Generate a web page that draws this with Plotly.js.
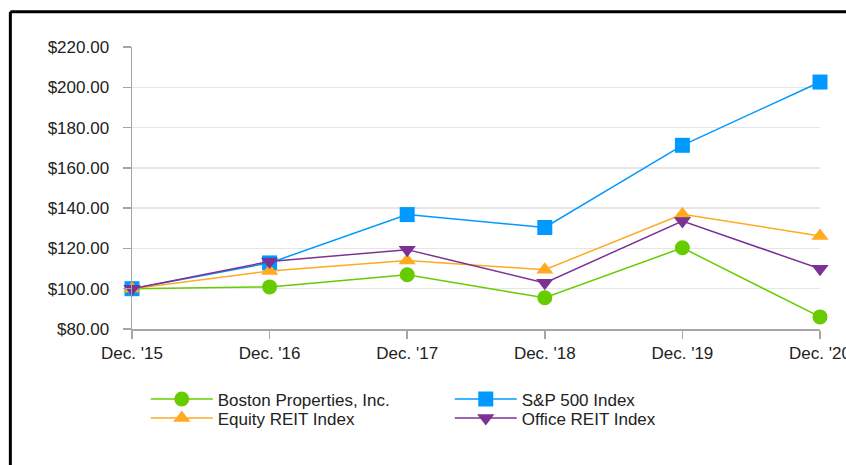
<!DOCTYPE html>
<html>
<head>
<meta charset="utf-8">
<script src="https://cdn.plot.ly/plotly-3.0.1.min.js"></script>
<style>html,body{margin:0;padding:0;background:#fff;}#chart{width:846px;height:465px;}</style>
</head>
<body>
<div id="chart"></div>
<script>
const categories = ["Dec. '15", "Dec. '16", "Dec. '17", "Dec. '18", "Dec. '19", "Dec. '20"];
const bostonProperties = [100, 100.9, 106.9, 95.5, 120.3, 86.0];
const sp500 = [100, 112.8, 136.8, 130.4, 171.2, 202.6];
const equityReit = [100, 108.8, 114.0, 109.4, 137.0, 126.2];
const officeReit = [100, 113.5, 119.4, 102.9, 133.6, 109.9];
const yTicks = [80, 100, 120, 140, 160, 180, 200, 220];

const mk = (name, y, color, symbol, legend) => ({
  type: 'scatter', mode: 'lines+markers', name: name, legend: legend,
  x: categories.map((c, i) => i), y: y,
  line: {color: color, width: 1.5},
  marker: {color: color, symbol: symbol, size: 15},
  cliponaxis: false
});

const data = [
  mk('Boston Properties, Inc.', bostonProperties, '#66cc00', 'circle', 'legend'),
  mk('S&P 500 Index', sp500, '#0099ff', 'square', 'legend'),
  mk('Equity REIT Index', equityReit, '#ffaa1f', 'triangle-up', 'legend2'),
  mk('Office REIT Index', officeReit, '#7b3294', 'triangle-down', 'legend2')
];

const legendBase = {
  orientation: 'h', x: 0.02, xanchor: 'left', yanchor: 'top',
  entrywidth: 227, entrywidthmode: 'pixels', itemwidth: 62,
  font: {size: 17, color: '#222222'}, tracegroupgap: 0, bgcolor: 'rgba(0,0,0,0)'
};

const layout = {
  width: 846, height: 465,
  margin: {l: 132, r: 26, t: 47, b: 136},
  paper_bgcolor: '#ffffff', plot_bgcolor: '#ffffff',
  font: {family: 'Liberation Sans, Arial, sans-serif', size: 17, color: '#222222'},
  showlegend: true,
  xaxis: {
    range: [0, 5], tickmode: 'array', tickvals: categories.map((c, i) => i), ticktext: categories,
    showgrid: false, zeroline: false, showline: true, linecolor: '#a6a6a6', linewidth: 1.5,
    ticks: 'outside', ticklen: 8, tickcolor: '#a6a6a6', tickwidth: 1.5, fixedrange: true,
    ticklabeloverflow: 'allow', ticklabelstandoff: 0, automargin: false
  },
  yaxis: {
    range: [80, 220], tickmode: 'array', tickvals: yTicks,
    ticktext: yTicks.map(v => '$' + v.toFixed(2)),
    showgrid: true, gridcolor: '#e6e6e6', gridwidth: 1.5, zeroline: false,
    showline: true, linecolor: '#a6a6a6', linewidth: 1.5,
    ticks: 'outside', ticklen: 8, tickcolor: '#a6a6a6', tickwidth: 1.5, fixedrange: true,
    ticklabelstandoff: 10, automargin: false
  },
  legend: Object.assign({}, legendBase, {y: -0.1858}),
  legend2: Object.assign({}, legendBase, {y: -0.2532}),
  shapes: [
    {type: 'line', xref: 'paper', yref: 'paper', x0: -0.1768, x1: 1.1, y0: 1.125, y1: 1.125,
     line: {color: '#000000', width: 3}},
    {type: 'line', xref: 'paper', yref: 'paper', x0: -0.1768, x1: -0.1768, y0: 1.125, y1: -1,
     line: {color: '#000000', width: 3}}
  ]
};

Plotly.newPlot('chart', data, layout, {displayModeBar: false, staticPlot: true});
</script>
</body>
</html>
